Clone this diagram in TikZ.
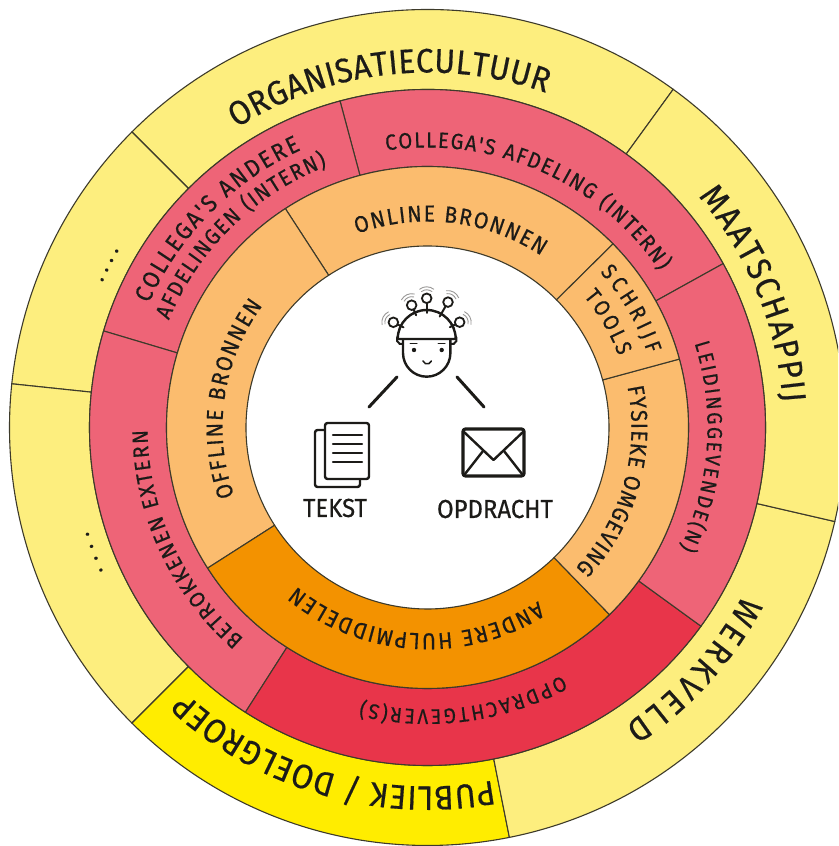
\documentclass[tikz,border=0pt]{standalone}
\usepackage{fontspec}
\usetikzlibrary{decorations.text}
\newfontfamily\din[FakeBold=0.5,FakeStretch=0.92]{Fira Sans}
\definecolor{ink}{HTML}{1C1B18}
\definecolor{edge}{HTML}{3D3A2A}
\definecolor{paleY}{HTML}{FDEE7E}
\definecolor{brightY}{HTML}{FFED00}
\definecolor{rose}{HTML}{EE6477}
\definecolor{crimson}{HTML}{E8354A}
\definecolor{paleO}{HTML}{FBBC6E}
\definecolor{deepO}{HTML}{F39200}
\newcommand\ringsector[5]{\fill[#5,draw=edge,line width=1.1pt] (#3:#2pt) arc[start angle=#3,end angle=#4,radius=#2pt] -- (#4:#1pt) arc[start angle=#4,end angle=#3,radius=#1pt] -- cycle;}
\newcommand\arctext[5]{\path[decorate,decoration={text along path,text color=ink,text align={fit to path},text={|\din\fontsize{#4}{#4}\selectfont|#5}}] (#2:#1pt) arc[start angle=#2,end angle=#3,radius=#1pt];}
\tikzset{
  icon/.style={draw=ink,line width=2.4pt,line cap=round,line join=round},
  thin icon/.style={draw=ink,line width=1.5pt,line cap=round},
  signal/.style={draw=ink!45,line width=0.9pt,line cap=round},
  caption/.style={inner sep=0pt,text=ink,font=\din\fontsize{26}{26}\selectfont}
}
\begin{document}
\begin{tikzpicture}[x=1pt,y=1pt]
\useasboundingbox (0,0) rectangle (838,846);
\fill[white] (0,0) rectangle (838,846);
\clip (0,0) rectangle (838,846);
\begin{scope}[shift={(427.5,418.5)}]
% outer ring
\ringsector{338}{418}{54}{135}{paleY}
\ringsector{338}{418}{135}{174}{paleY}
\ringsector{338}{418}{174}{225}{paleY}
\ringsector{338}{418}{225}{281.3}{brightY}
\ringsector{338}{418}{281.3}{347}{paleY}
\ringsector{338}{418}{347}{414}{paleY}
% middle ring
\ringsector{261}{338}{29}{105}{rose}
\ringsector{261}{338}{105}{163.4}{rose}
\ringsector{261}{338}{163.4}{237.4}{rose}
\ringsector{261}{338}{237.4}{324}{crimson}
\ringsector{261}{338}{324}{389}{rose}
% inner ring
\ringsector{181.5}{261}{44.7}{123}{paleO}
\ringsector{181.5}{261}{123}{212.6}{paleO}
\ringsector{181.5}{261}{212.6}{314.2}{deepO}
\ringsector{181.5}{261}{314.2}{375.2}{paleO}
\ringsector{181.5}{261}{15.2}{44.7}{paleO}
% texts
\arctext{355}{122.5}{70.5}{34}{ORGANISATIECULTUUR}
\arctext{356}{40.5}{4}{34}{MAATSCHAPPIJ}
\arctext{357}{-28}{-56.5}{34}{WERKVELD}
\arctext{359}{-79.5}{-132.5}{34}{PUBLIEK / DOELGROEP}
\arctext{356}{156}{150}{24}{....}
\arctext{355}{204}{197}{24}{....}
\arctext{280}{98.5}{34}{22}{COLLEGA'S AFDELING (INTERN)}
\arctext{305}{156}{114.5}{24}{COLLEGA'S ANDERE}
\arctext{280}{157.5}{111}{22}{AFDELINGEN (INTERN)}
\arctext{280}{229}{180.5}{22}{BETROKKENEN EXTERN}
\arctext{280}{17.5}{-25.5}{21}{LEIDINGGEVENDE(N)}
\arctext{282}{-61.5}{-103.5}{21}{OPDRACHTGEVER(S)}
\arctext{206}{110}{56.5}{23}{ONLINE BRONNEN}
\arctext{205}{199.5}{143.5}{23}{OFFLINE BRONNEN}
\arctext{206}{-57.5}{-129.5}{23}{ANDERE HULPMIDDELEN}
\arctext{204}{11.5}{-43.5}{23}{FYSIEKE OMGEVING}
\arctext{232}{42}{18.5}{22}{SCHRIJF}
\arctext{204}{40}{20.5}{22}{TOOLS}
\end{scope}
% centre labels
\node[caption] (tekst) at (335,338) {TEKST};
\node[caption] (opdracht) at (495,337) {OPDRACHT};
% icons, in reference pixel coordinates
\begin{scope}[shift={(0,846)},yscale=-1]
\coordinate (headL) at (397,377);
\coordinate (headR) at (457,377);
\coordinate (docTop) at (369,407);
\coordinate (mailTop) at (484,407);
\draw[icon,line width=3pt] (headL) -- (docTop);
\draw[icon,line width=3pt] (headR) -- (mailTop);
% head
\draw[thin icon,line width=2pt] (403.5,344) arc[start angle=70,end angle=290,radius=5];
\draw[thin icon,line width=2pt] (450,344) arc[start angle=110,end angle=-110,radius=5];
\draw[icon,fill=white] (403,339) -- (403,353) arc[start angle=180,end angle=0,radius=23.7] -- (450.4,339);
\draw[icon,fill=white] (397.7,339) arc[start angle=180,end angle=360,radius=29] -- cycle;
\fill[ink] (414,350) circle (2.2pt) (441.7,350) circle (2.2pt);
\draw[thin icon,line width=1pt] (410,344) -- (417,344) (438,344) -- (445,344);
\draw[thin icon] (423,361) arc[start angle=160,end angle=20,radius=4.5];
% sensors
\begin{scope}[shift={(426.7,339)}]
\foreach \a/\r in {206.6/37.3,246/37,270/40.7,300/42.6,333/37}{
  \draw[thin icon,line width=2pt] (\a:26pt) -- (\a:\r pt-4.8pt);
  \begin{scope}[shift={(\a:29pt)},rotate=\a]
    \draw[thin icon,line width=1.4pt] (0,-3.2pt) -- (0,3.2pt);
  \end{scope}
  \begin{scope}[shift={(\a:\r pt)}]
    \draw[thin icon,line width=1.8pt,fill=white] (0,0) circle (4.8pt);
    \draw[signal] (\a-38:8.5pt) arc[start angle=\a-38,end angle=\a+38,radius=8.5pt];
    \draw[signal] (\a-38:11.5pt) arc[start angle=\a-38,end angle=\a+38,radius=11.5pt];
  \end{scope}
}
\end{scope}
% document
\draw[icon,rounded corners=2.5pt] (315,430) rectangle (360,487);
\draw[icon,fill=white,rounded corners=2.5pt] (325,423) rectangle (369,479);
\foreach \ly in {435,444,453,462}{\draw[icon] (333,\ly) -- (362,\ly);}
% envelope
\draw[icon,line width=3.2pt,rounded corners=2.5pt] (463,429) rectangle (524,476);
\draw[icon] (464,432) -- (493.5,460) -- (523,432);
\draw[icon] (465,474) -- (483,451);
\draw[icon] (522,474) -- (504,451);
\end{scope}
\end{tikzpicture}
\end{document}
